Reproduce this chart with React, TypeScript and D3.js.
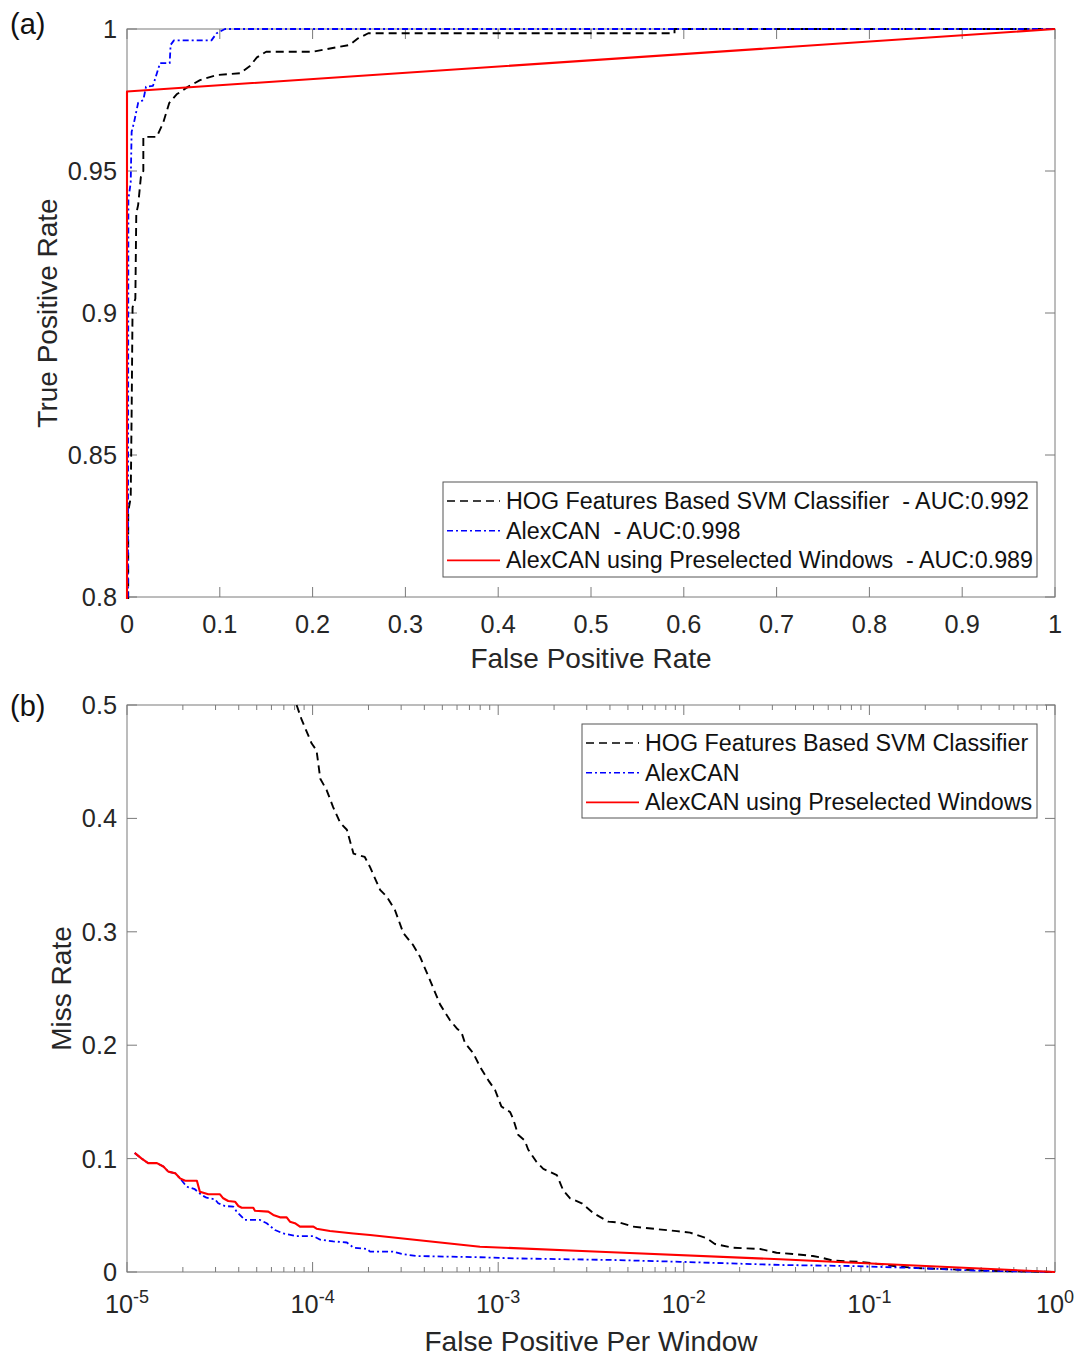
import React from 'react';
import * as d3 from 'd3';

const FONT = '"Liberation Sans", Arial, Helvetica, sans-serif';
const TEXT = '#262626';
const AXIS = '#7a7a7a';

// ---------- (a) ROC curves ----------
const rocTicksX = [0, 0.1, 0.2, 0.3, 0.4, 0.5, 0.6, 0.7, 0.8, 0.9, 1];
const rocTicksY = [0.8, 0.85, 0.9, 0.95, 1];

const hogRocFpr = [0.0013, 0.0013, 0.004, 0.005, 0.006, 0.009, 0.010, 0.012, 0.015, 0.0176, 0.0176, 0.032, 0.039, 0.0456, 0.0535, 0.066, 0.0787, 0.0966, 0.1218, 0.1325, 0.14, 0.15, 0.20, 0.24, 0.249, 0.26, 0.59, 0.59, 1];
const hogRocTpr = [0.79, 0.83, 0.835, 0.865, 0.902, 0.905, 0.935, 0.938, 0.948, 0.950, 0.962, 0.962, 0.967, 0.974, 0.977, 0.9797, 0.982, 0.9838, 0.9844, 0.987, 0.990, 0.992, 0.992, 0.9944, 0.9967, 0.9985, 0.9985, 1, 1];

const alexRocFpr = [0.001, 0.0015, 0.004, 0.005, 0.0075, 0.012, 0.0176, 0.0205, 0.028, 0.0356, 0.046, 0.047, 0.0506, 0.091, 0.0966, 0.1056, 1];
const alexRocTpr = [0.79, 0.94, 0.946, 0.9638, 0.967, 0.974, 0.975, 0.9797, 0.980, 0.988, 0.988, 0.9944, 0.996, 0.996, 0.9985, 1, 1];

const preRocFpr = [0, 0, 1];
const preRocTpr = [0.79, 0.978, 1];

const rocLegend = [
  'HOG Features Based SVM Classifier  - AUC:0.992',
  'AlexCAN  - AUC:0.998',
  'AlexCAN using Preselected Windows  - AUC:0.989',
];

// ---------- (b) miss rate vs false positives per window ----------
const fppwDecades = [-5, -4, -3, -2, -1, 0];
const missTicks = [0, 0.1, 0.2, 0.3, 0.4, 0.5];

const hogFppw = [8.2e-5, 8.73e-5, 9.89e-5, 1.05e-4, 1.10e-4, 1.19e-4, 1.29e-4, 1.41e-4, 1.53e-4, 1.66e-4, 1.91e-4, 2.04e-4, 2.31e-4, 2.51e-4, 2.78e-4, 3.08e-4, 3.49e-4, 3.79e-4, 4.30e-4, 4.86e-4, 5.50e-4, 5.97e-4, 6.35e-4, 6.62e-4, 7.34e-4, 7.98e-4, 8.85e-4, 9.62e-4, 1.04e-3, 1.16e-3, 1.21e-3, 1.28e-3, 1.39e-3, 1.45e-3, 1.61e-3, 1.75e-3, 2.07e-3, 2.24e-3, 2.44e-3, 2.82e-3, 3.25e-3, 3.92e-3, 4.53e-3, 5.32e-3, 9.18e-3, 0.0108, 0.0133, 0.0147, 0.0184, 0.0258, 0.0316, 0.0387, 0.0496, 0.0542, 0.0639, 0.0889, 0.104, 0.146, 0.180, 0.463, 1];
const hogMiss = [0.50, 0.487, 0.466, 0.460, 0.435, 0.425, 0.410, 0.396, 0.390, 0.369, 0.366, 0.357, 0.337, 0.331, 0.319, 0.299, 0.288, 0.278, 0.257, 0.236, 0.222, 0.215, 0.211, 0.202, 0.193, 0.181, 0.169, 0.1605, 0.146, 0.141, 0.134, 0.121, 0.116, 0.108, 0.097, 0.091, 0.0855, 0.072, 0.065, 0.0606, 0.052, 0.0444, 0.0435, 0.040, 0.036, 0.0347, 0.0297, 0.0247, 0.0214, 0.0203, 0.017, 0.0159, 0.0141, 0.013, 0.010, 0.009, 0.0077, 0.0047, 0.0035, 0.001, 0];

const alexFppw = [1.10e-5, 1.20e-5, 1.30e-5, 1.45e-5, 1.57e-5, 1.67e-5, 1.82e-5, 1.93e-5, 2.10e-5, 2.32e-5, 2.52e-5, 2.68e-5, 2.98e-5, 3.10e-5, 3.37e-5, 3.74e-5, 3.90e-5, 4.32e-5, 5.21e-5, 5.66e-5, 6.27e-5, 6.95e-5, 8.20e-5, 1.01e-4, 1.10e-4, 1.29e-4, 1.53e-4, 1.66e-4, 1.96e-4, 2.04e-4, 2.71e-4, 3.02e-4, 3.64e-4, 7.98e-4, 1.21e-3, 4.17e-3, 9.54e-3, 0.033, 0.0785, 0.180, 0.409, 1];
const alexMiss = [0.105, 0.100, 0.096, 0.096, 0.093, 0.0885, 0.087, 0.0826, 0.0752, 0.073, 0.068, 0.0655, 0.0641, 0.0606, 0.0582, 0.0576, 0.0532, 0.0459, 0.0459, 0.043, 0.037, 0.034, 0.0317, 0.0317, 0.0285, 0.027, 0.026, 0.0215, 0.0203, 0.018, 0.018, 0.0159, 0.0141, 0.013, 0.012, 0.0106, 0.009, 0.0062, 0.0053, 0.0035, 0.001, 0];

const preFppw = [1.10e-5, 1.20e-5, 1.30e-5, 1.45e-5, 1.57e-5, 1.67e-5, 1.82e-5, 1.93e-5, 2.06e-5, 2.38e-5, 2.47e-5, 2.63e-5, 2.74e-5, 3.17e-5, 3.30e-5, 3.51e-5, 3.82e-5, 3.98e-5, 4.15e-5, 4.79e-5, 4.89e-5, 5.77e-5, 6.14e-5, 6.67e-5, 7.25e-5, 7.55e-5, 8.03e-5, 8.55e-5, 1.01e-4, 1.05e-4, 1.24e-4, 1.66e-4, 2.04e-4, 7.98e-4, 3.53e-3, 0.033, 0.0637, 1];
const preMiss = [0.105, 0.100, 0.096, 0.096, 0.093, 0.0885, 0.087, 0.0826, 0.0805, 0.0805, 0.0708, 0.0694, 0.0685, 0.0685, 0.065, 0.0626, 0.062, 0.0582, 0.0567, 0.0567, 0.054, 0.0532, 0.0503, 0.0482, 0.0482, 0.0444, 0.043, 0.040, 0.040, 0.0382, 0.0362, 0.034, 0.0326, 0.0223, 0.0179, 0.0112, 0.0091, 0];

const missLegend = ['HOG Features Based SVM Classifier', 'AlexCAN', 'AlexCAN using Preselected Windows'];

// line styles: HOG, AlexCAN, AlexCAN with preselected windows
const seriesStyle = [
  { color: '#000000', dash: '8,5', width: 1.9 },
  { color: '#0000ff', dash: '6,3,2,3', width: 1.8 },
  { color: '#ff0000', dash: undefined, width: 2.1 },
];

type Pt = [number, number];
const zip = (xs: number[], ys: number[]): Pt[] =>
  xs.slice(0, Math.min(xs.length, ys.length)).map((x, i) => [x, ys[i]] as Pt);

function Legend({ x, y, w, h, labels }: { x: number; y: number; w: number; h: number; labels: string[] }) {
  const rowH = 29.7;
  return (
    <g>
      <rect x={x} y={y} width={w} height={h} fill="#fff" stroke="#555" strokeWidth={1} />
      {labels.map((lab, i) => {
        const cy = y + 19 + i * rowH;
        const s = seriesStyle[i];
        return (
          <g key={i}>
            <line x1={x + 4} x2={x + 57} y1={cy} y2={cy} stroke={s.color} strokeWidth={s.width - 0.3} strokeDasharray={s.dash} />
            <text x={x + 63} y={cy + 8} fontSize={23.3} fill="#111" style={{ whiteSpace: 'pre' }}>{lab}</text>
          </g>
        );
      })}
    </g>
  );
}

export default function App() {
  const xA = d3.scaleLinear().domain([0, 1]).range([127, 1055]);
  const yA = d3.scaleLinear().domain([0.8, 1]).range([597, 29]);
  const xB = d3.scaleLog().domain([1e-5, 1]).range([127, 1055]);
  const yB = d3.scaleLinear().domain([0, 0.5]).range([1272, 705]);

  const lineA = d3.line<Pt>().x(d => xA(d[0])).y(d => yA(d[1]));
  const lineB = d3.line<Pt>().x(d => xB(d[0])).y(d => yB(d[1]));

  const rocSeries = [zip(hogRocFpr, hogRocTpr), zip(alexRocFpr, alexRocTpr), zip(preRocFpr, preRocTpr)];
  const missSeries = [zip(hogFppw, hogMiss), zip(alexFppw, alexMiss), zip(preFppw, preMiss)];

  const [ax0, ax1] = xA.range();
  const [ay1, ay0] = yA.range();
  const [bx0, bx1] = xB.range();
  const [by1, by0] = yB.range();
  const TL = 10;

  const allLogTicks = xB.ticks();
  const isMajor = (t: number) => Math.abs(Math.log10(t) - Math.round(Math.log10(t))) < 1e-9;

  return (
    <svg width={1079} height={1356} style={{ position: 'absolute', left: 0, top: 0, background: '#fff' }} fontFamily={FONT}>
      <defs>
        <clipPath id="clipA"><rect x={ax0 - 2} y={ay0 - 2} width={ax1 - ax0 + 4} height={ay1 - ay0 + 4} /></clipPath>
        <clipPath id="clipB"><rect x={bx0 - 2} y={by0 - 2} width={bx1 - bx0 + 4} height={by1 - by0 + 4} /></clipPath>
      </defs>
      <rect x={0} y={0} width={1079} height={1356} fill="#fff" />

      {/* ===== panel (a) ===== */}
      <text x={10} y={34} fontSize={29} fill="#111">(a)</text>
      <rect x={ax0} y={ay0} width={ax1 - ax0} height={ay1 - ay0} fill="none" stroke={AXIS} strokeWidth={1} />
      {rocTicksX.map(t => (
        <g key={'ax' + t}>
          <line x1={xA(t)} x2={xA(t)} y1={ay1} y2={ay1 - TL} stroke={AXIS} />
          <line x1={xA(t)} x2={xA(t)} y1={ay0} y2={ay0 + TL} stroke={AXIS} />
          <text x={xA(t)} y={633} fontSize={25.3} fill={TEXT} textAnchor="middle">{String(+t.toFixed(2))}</text>
        </g>
      ))}
      {rocTicksY.map(t => (
        <g key={'ay' + t}>
          <line x1={ax0} x2={ax0 + TL} y1={yA(t)} y2={yA(t)} stroke={AXIS} />
          <line x1={ax1} x2={ax1 - TL} y1={yA(t)} y2={yA(t)} stroke={AXIS} />
          <text x={117} y={yA(t) + 9} fontSize={25.3} fill={TEXT} textAnchor="end">{String(+t.toFixed(2))}</text>
        </g>
      ))}
      <g clipPath="url(#clipA)">
        {rocSeries.map((pts, i) => (
          <path key={i} d={lineA(pts) || ''} fill="none" stroke={seriesStyle[i].color}
            strokeWidth={seriesStyle[i].width} strokeDasharray={seriesStyle[i].dash} strokeLinejoin="round" />
        ))}
      </g>
      <text x={(ax0 + ax1) / 2} y={668} fontSize={28} fill={TEXT} textAnchor="middle">False Positive Rate</text>
      <text transform={`translate(57,${(ay0 + ay1) / 2}) rotate(-90)`} fontSize={28} fill={TEXT} textAnchor="middle">True Positive Rate</text>
      <Legend x={443} y={482} w={594} h={95} labels={rocLegend} />

      {/* ===== panel (b) ===== */}
      <text x={10} y={716} fontSize={29} fill="#111">(b)</text>
      <rect x={bx0} y={by0} width={bx1 - bx0} height={by1 - by0} fill="none" stroke={AXIS} strokeWidth={1} />
      {allLogTicks.map((t, i) => {
        const len = isMajor(t) ? TL : TL / 2;
        return (
          <g key={'bx' + i}>
            <line x1={xB(t)} x2={xB(t)} y1={by1} y2={by1 - len} stroke={AXIS} />
            <line x1={xB(t)} x2={xB(t)} y1={by0} y2={by0 + len} stroke={AXIS} />
          </g>
        );
      })}
      {fppwDecades.map(e => (
        <text key={'bl' + e} x={xB(Math.pow(10, e))} y={1313} fontSize={25.3} fill={TEXT} textAnchor="middle">
          <tspan>10</tspan>
          <tspan dy={-10} fontSize={18}>{String(e)}</tspan>
        </text>
      ))}
      {missTicks.map(t => (
        <g key={'by' + t}>
          <line x1={bx0} x2={bx0 + TL} y1={yB(t)} y2={yB(t)} stroke={AXIS} />
          <line x1={bx1} x2={bx1 - TL} y1={yB(t)} y2={yB(t)} stroke={AXIS} />
          <text x={117} y={yB(t) + 9} fontSize={25.3} fill={TEXT} textAnchor="end">{String(+t.toFixed(2))}</text>
        </g>
      ))}
      <g clipPath="url(#clipB)">
        {missSeries.map((pts, i) => (
          <path key={i} d={lineB(pts) || ''} fill="none" stroke={seriesStyle[i].color}
            strokeWidth={seriesStyle[i].width} strokeDasharray={seriesStyle[i].dash} strokeLinejoin="round" />
        ))}
      </g>
      <text x={(bx0 + bx1) / 2} y={1351} fontSize={28} fill={TEXT} textAnchor="middle">False Positive Per Window</text>
      <text transform={`translate(71,${(by0 + by1) / 2}) rotate(-90)`} fontSize={28} fill={TEXT} textAnchor="middle">Miss Rate</text>
      <Legend x={582} y={724} w={455} h={94} labels={missLegend} />
    </svg>
  );
}
